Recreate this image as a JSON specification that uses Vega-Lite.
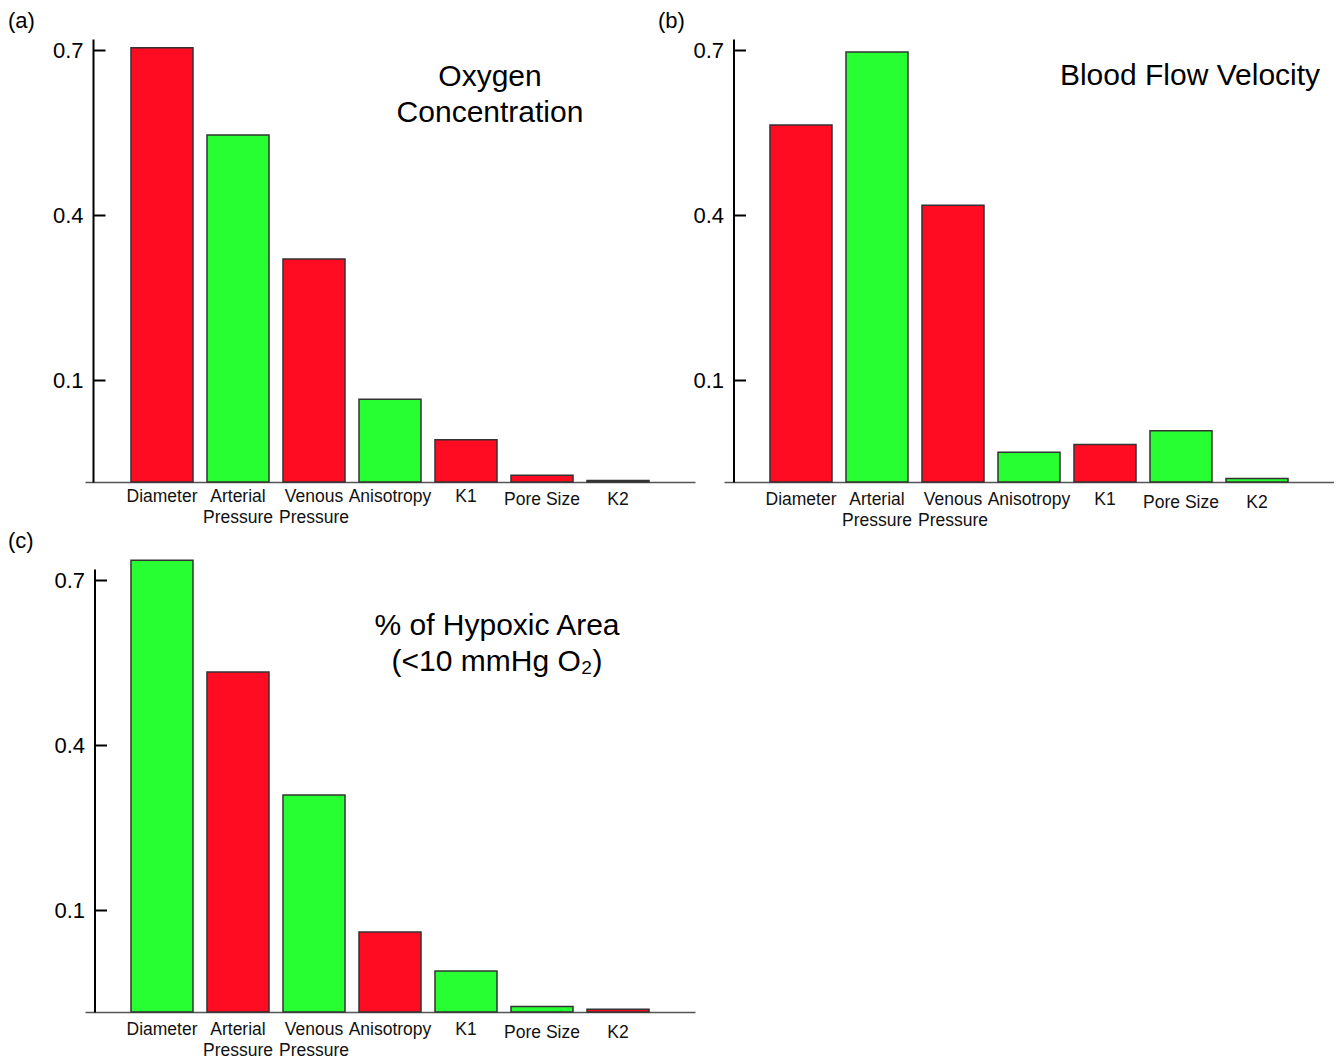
{
  "$schema": "https://vega.github.io/schema/vega-lite/v6.json",
  "background": "white",
  "padding": {"left": 8, "top": 10, "right": 0, "bottom": 0},
  "columns": 2,
  "bounds": "flush",
  "spacing": {"row": 87, "column": 29},
  "config": {
    "font": "Liberation Sans",
    "view": {"stroke": null},
    "axis": {"grid": false, "title": null},
    "title": {"font": "Liberation Sans", "fontSize": 22, "fontWeight": "normal", "color": "#000", "anchor": "start", "frame": "group", "dy": -2}
  },
  "concat": [
    {
      "width": 610, "height": 443,
      "title": {"text": "(a)", "dx": -77},
      "layer": [
        {
          "data": {"values": [
            {"parameter": "Diameter", "value": 0.704, "effect": "negative"},
            {"parameter": "Arterial Pressure", "value": 0.5455, "effect": "positive"},
            {"parameter": "Venous Pressure", "value": 0.32, "effect": "negative"},
            {"parameter": "Anisotropy", "value": 0.0655, "effect": "positive"},
            {"parameter": "K1", "value": -0.008, "effect": "negative"},
            {"parameter": "Pore Size", "value": -0.0727, "effect": "negative"},
            {"parameter": "K2", "value": -0.0825, "effect": "negative"}
          ]},
          "mark": {"type": "bar", "stroke": "#333", "strokeWidth": 1.5},
          "encoding": {
            "x": {"field": "parameter", "type": "nominal", "sort": null,
                  "scale": {"paddingInner": 0.184, "paddingOuter": 0.605},
                  "axis": {"ticks": false, "tickSize": 0, "labelAngle": 0, "labelFontSize": 17.5, "labelColor": "#111",
                           "labelPadding": {"condition": {"test": "datum.value == 'Pore Size' || datum.value == 'K2'", "value": 8}, "value": 5},
                           "labelLineHeight": 21, "domainColor": "#555", "domainWidth": 1.5,
                           "labelExpr": "datum.value == 'Arterial Pressure' ? ['Arterial','Pressure'] : datum.value == 'Venous Pressure' ? ['Venous','Pressure'] : datum.label"}},
            "y": {"field": "value", "type": "quantitative",
                  "scale": {"domain": [-0.085, 0.72], "nice": false, "zero": false},
                  "axis": {"values": [0.1, 0.4, 0.7], "format": ".1f", "offset": -8, "tickSize": -12, "tickWidth": 2, "tickColor": "#000",
                           "domainColor": "#000", "domainWidth": 2, "labelFontSize": 22, "labelColor": "#000", "labelPadding": 22}},
            "y2": {"datum": -0.085},
            "color": {"field": "effect", "type": "nominal", "legend": null,
                      "scale": {"domain": ["negative", "positive"], "range": ["#FF0B22", "#28FF32"]}}
          }
        },
        {
          "data": {"values": [{}]},
          "mark": {"type": "text", "text": ["Oxygen", "Concentration"], "fontSize": 30, "lineHeight": 36, "align": "center", "baseline": "alphabetic", "dx": 24, "color": "#000"},
          "encoding": {"x": {"datum": "K1"}, "y": {"datum": 0.6337}}
        }
      ]
    },
    {
      "width": 610, "height": 443,
      "title": {"text": "(b)", "dx": -66},
      "layer": [
        {
          "data": {"values": [
            {"parameter": "Diameter", "value": 0.5636, "effect": "negative"},
            {"parameter": "Arterial Pressure", "value": 0.6964, "effect": "positive"},
            {"parameter": "Venous Pressure", "value": 0.418, "effect": "negative"},
            {"parameter": "Anisotropy", "value": -0.031, "effect": "positive"},
            {"parameter": "K1", "value": -0.017, "effect": "negative"},
            {"parameter": "Pore Size", "value": 0.008, "effect": "positive"},
            {"parameter": "K2", "value": -0.0787, "effect": "positive"}
          ]},
          "mark": {"type": "bar", "stroke": "#333", "strokeWidth": 1.5},
          "encoding": {
            "x": {"field": "parameter", "type": "nominal", "sort": null,
                  "scale": {"paddingInner": 0.184, "paddingOuter": 0.605},
                  "axis": {"ticks": false, "tickSize": 0, "labelAngle": 0, "labelFontSize": 17.5, "labelColor": "#111",
                           "labelPadding": {"condition": {"test": "datum.value == 'Pore Size' || datum.value == 'K2'", "value": 11}, "value": 8.5},
                           "labelLineHeight": 21, "domainColor": "#555", "domainWidth": 1.5,
                           "labelExpr": "datum.value == 'Arterial Pressure' ? ['Arterial','Pressure'] : datum.value == 'Venous Pressure' ? ['Venous','Pressure'] : datum.label"}},
            "y": {"field": "value", "type": "quantitative",
                  "scale": {"domain": [-0.085, 0.72], "nice": false, "zero": false},
                  "axis": {"values": [0.1, 0.4, 0.7], "format": ".1f", "offset": -9.5, "tickSize": -12, "tickWidth": 2, "tickColor": "#000",
                           "domainColor": "#000", "domainWidth": 2, "labelFontSize": 22, "labelColor": "#000", "labelPadding": 22}},
            "y2": {"datum": -0.085},
            "color": {"field": "effect", "type": "nominal", "legend": null,
                      "scale": {"domain": ["negative", "positive"], "range": ["#FF0B22", "#28FF32"]}}
          }
        },
        {
          "data": {"values": [{}]},
          "mark": {"type": "text", "text": "Blood Flow Velocity", "fontSize": 30, "align": "center", "baseline": "alphabetic", "dx": 9, "color": "#000"},
          "encoding": {"x": {"datum": "Pore Size"}, "y": {"datum": 0.6364}}
        }
      ]
    },
    {
      "width": 610, "height": 443,
      "title": {"text": "(c)", "dx": -77},
      "layer": [
        {
          "data": {"values": [
            {"parameter": "Diameter", "value": 0.736, "effect": "positive"},
            {"parameter": "Arterial Pressure", "value": 0.5328, "effect": "negative"},
            {"parameter": "Venous Pressure", "value": 0.3093, "effect": "positive"},
            {"parameter": "Anisotropy", "value": 0.0603, "effect": "negative"},
            {"parameter": "K1", "value": -0.0105, "effect": "positive"},
            {"parameter": "Pore Size", "value": -0.0752, "effect": "positive"},
            {"parameter": "K2", "value": -0.0799, "effect": "negative"}
          ]},
          "mark": {"type": "bar", "stroke": "#333", "strokeWidth": 1.5},
          "encoding": {
            "x": {"field": "parameter", "type": "nominal", "sort": null,
                  "scale": {"paddingInner": 0.184, "paddingOuter": 0.605},
                  "axis": {"ticks": false, "tickSize": 0, "labelAngle": 0, "labelFontSize": 17.5, "labelColor": "#111",
                           "labelPadding": {"condition": {"test": "datum.value == 'Pore Size' || datum.value == 'K2'", "value": 11}, "value": 8},
                           "labelLineHeight": 21, "domainColor": "#555", "domainWidth": 1.5,
                           "labelExpr": "datum.value == 'Arterial Pressure' ? ['Arterial','Pressure'] : datum.value == 'Venous Pressure' ? ['Venous','Pressure'] : datum.label"}},
            "y": {"field": "value", "type": "quantitative",
                  "scale": {"domain": [-0.085, 0.72], "nice": false, "zero": false},
                  "axis": {"values": [0.1, 0.4, 0.7], "format": ".1f", "offset": -9.5, "tickSize": -12, "tickWidth": 2, "tickColor": "#000",
                           "domainColor": "#000", "domainWidth": 2, "labelFontSize": 22, "labelColor": "#000", "labelPadding": 22}},
            "y2": {"datum": -0.085},
            "color": {"field": "effect", "type": "nominal", "legend": null,
                      "scale": {"domain": ["negative", "positive"], "range": ["#FF0B22", "#28FF32"]}}
          }
        },
        {
          "data": {"values": [{}]},
          "mark": {"type": "text", "text": ["% of Hypoxic Area", "(<10 mmHg O₂)"], "fontSize": 30, "lineHeight": 36, "align": "center", "baseline": "alphabetic", "dx": 31, "color": "#000"},
          "encoding": {"x": {"datum": "K1"}, "y": {"datum": 0.6}}
        }
      ]
    }
  ]
}
